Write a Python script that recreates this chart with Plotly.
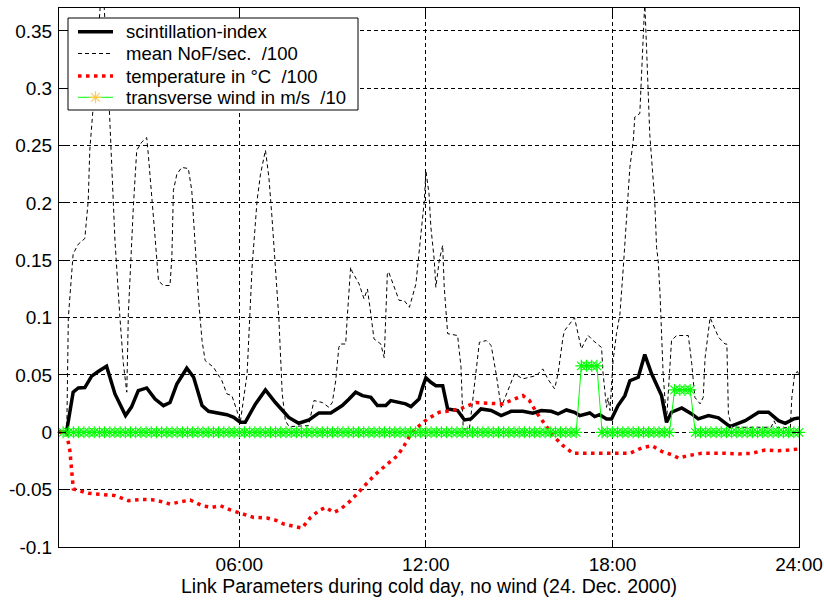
import plotly.graph_objects as go

# Link parameters over one day (hours since midnight)
scint_h = [0.2, 0.44, 0.655, 0.82, 1.03, 1.25, 1.46, 1.73, 2.0, 2.34, 2.53, 2.75, 3.02, 3.29, 3.56,
           3.77, 3.99, 4.31, 4.53, 4.8, 5.01, 5.33, 5.6, 5.82, 6.03, 6.19, 6.52, 6.84, 7.16, 7.59,
           7.91, 8.24, 8.56, 8.94, 9.31, 9.53, 9.74, 9.96, 10.23, 10.44, 10.71, 10.87, 11.14, 11.35,
           11.52, 11.78, 11.89, 12.0, 12.16, 12.32, 12.54, 12.7, 13.02, 13.24, 13.45, 13.77, 14.1,
           14.42, 14.74, 15.12, 15.44, 15.71, 16.03, 16.25, 16.52, 16.78, 16.95, 17.27, 17.43, 17.59,
           17.81, 17.97, 18.18, 18.4, 18.56, 18.83, 19.04, 19.26, 19.58, 19.74, 19.9, 20.23, 20.55,
           20.76, 21.09, 21.41, 21.78, 22.27, 22.7, 23.02, 23.34, 23.56, 23.83, 24.0]
scint_v = [0.0, 0.0, 0.035, 0.0387, 0.039, 0.049, 0.053, 0.0576, 0.0335, 0.0146, 0.022, 0.0364, 0.0387,
           0.029, 0.0233, 0.026, 0.042, 0.0559, 0.048, 0.0233, 0.0183, 0.0166, 0.0154, 0.0131, 0.0087,
           0.0087, 0.0248, 0.037, 0.026, 0.013, 0.0079, 0.0108, 0.0169, 0.0169, 0.0233, 0.029, 0.035,
           0.032, 0.0305, 0.0233, 0.0233, 0.0277, 0.026, 0.0248, 0.0224, 0.029, 0.039, 0.0475, 0.0436,
           0.0407, 0.0407, 0.0204, 0.019, 0.0108, 0.0117, 0.0204, 0.019, 0.0146, 0.0183, 0.0183,
           0.0166, 0.019, 0.0183, 0.016, 0.0195, 0.0175, 0.0146, 0.0169, 0.0137, 0.0154, 0.0117,
           0.0117, 0.0233, 0.032, 0.045, 0.048, 0.0678, 0.051, 0.032, 0.0087, 0.0175, 0.0213, 0.016,
           0.0117, 0.0146, 0.0126, 0.005, 0.0102, 0.0175, 0.0175, 0.0102, 0.0079, 0.0117, 0.0126]

nof_h = [0.2, 0.45, 0.5, 0.655, 0.82, 1.03, 1.14, 1.19, 1.3, 1.6, 1.82, 1.92, 2.0, 2.16, 2.27, 2.38,
         2.43, 2.59, 2.7, 2.86, 3.02, 3.07, 3.18, 3.29, 3.4, 3.56, 3.77, 3.83, 3.88, 3.99, 4.15, 4.36,
         4.47, 4.53, 4.69, 4.8, 4.9, 5.17, 5.44, 5.6, 5.76, 5.92, 6.03, 6.25, 6.41, 6.57, 6.68, 6.84,
         6.95, 7.05, 7.16, 7.27, 7.38, 7.48, 7.6, 8.23, 8.4, 8.67, 8.88, 8.99, 9.1, 9.2, 9.25, 9.42,
         9.47, 9.58, 9.63, 9.85, 10.01, 10.12, 10.23, 10.33, 10.55, 10.66, 10.76, 10.8, 11.14, 11.3,
         11.47, 11.68, 11.84, 11.95, 12.0, 12.1, 12.16, 12.27, 12.32, 12.43, 12.54, 12.59, 12.7,
         13.02, 13.13, 13.2, 13.4, 13.61, 13.72, 13.94, 14.1, 14.26, 14.42, 14.47, 14.63, 14.85,
         15.12, 15.33, 15.55, 15.76, 15.92, 16.14, 16.25, 16.41, 16.46, 16.78, 17.0, 17.22, 17.38,
         17.65, 17.7, 17.81, 17.86, 17.92, 18.02, 18.13, 18.24, 18.35, 18.45, 18.56, 18.67, 18.72,
         18.88, 18.94, 18.99, 19.04, 19.1, 19.15, 19.2, 19.31, 19.36, 19.42, 19.47, 19.53, 19.63,
         19.74, 19.9, 20.06, 20.44, 20.55, 20.65, 20.82, 20.92, 20.98, 21.09, 21.14, 21.41, 21.62,
         21.68, 21.73, 21.84, 23.1, 23.2, 23.3, 23.72, 23.77, 23.86, 23.95, 24.0]
nof_v = [0.0, 0.0, 0.1, 0.1557, 0.164, 0.169, 0.202, 0.246, 0.284, 0.40, 0.281, 0.211, 0.167, 0.1,
         0.06, 0.035, 0.103, 0.196, 0.246, 0.253, 0.257, 0.243, 0.202, 0.17, 0.132, 0.128, 0.128,
         0.153, 0.211, 0.225, 0.231, 0.23, 0.211, 0.182, 0.115, 0.08, 0.0626, 0.0567, 0.045, 0.0335,
         0.032, 0.019, 0.0087, 0.051, 0.144, 0.202, 0.225, 0.246, 0.2225, 0.1876, 0.144, 0.1, 0.0335,
         0.0102, 0.005, 0.0058, 0.0277, 0.026, 0.0218, 0.026, 0.045, 0.074, 0.077, 0.077, 0.1, 0.144,
         0.14, 0.1295, 0.1164, 0.125, 0.103, 0.0815, 0.077, 0.065, 0.138, 0.14, 0.115, 0.115, 0.109,
         0.1295, 0.173, 0.202, 0.228, 0.208, 0.179, 0.15, 0.1265, 0.15, 0.163, 0.1265, 0.086, 0.0844,
         0.0567, 0.003, 0.003, 0.054, 0.0785, 0.08, 0.0757, 0.051, 0.0218, 0.025, 0.0364, 0.051,
         0.0466, 0.048, 0.0495, 0.0553, 0.0466, 0.0379, 0.051, 0.0829, 0.0887, 0.1, 0.0728, 0.0844,
         0.08, 0.074, 0.051, 0.0218, 0.03, 0.019, 0.0626, 0.086, 0.103, 0.144, 0.1876, 0.231, 0.2545,
         0.275, 0.278, 0.3127, 0.35, 0.375, 0.333, 0.301, 0.26, 0.22, 0.202, 0.161, 0.15, 0.121,
         0.051, 0.01, 0.08, 0.0844, 0.0844, 0.06, 0.0305, 0.0248, 0.0305, 0.065, 0.0887, 0.1, 0.083,
         0.077, 0.077, 0.016, 0.0044, 0.0044, 0.01, 0.004, 0.004, 0.0305, 0.051, 0.053, 0.05]

temp_h = [0.2, 0.44, 0.55, 0.6, 0.66, 1.14, 1.57, 2.0, 2.43, 2.86, 3.29, 3.77, 4.04, 4.42, 4.8, 5.12,
          5.39, 5.71, 6.03, 6.46, 6.89, 7.16, 7.43, 7.75, 8.02, 8.29, 8.56, 8.77, 9.04, 9.26, 9.58,
          9.9, 10.33, 10.76, 11.09, 11.3, 11.52, 11.73, 12.05, 12.43, 12.86, 13.18, 13.61, 14.04,
          14.47, 14.85, 15.12, 15.33, 15.55, 15.82, 16.09, 16.41, 16.73, 17.16, 17.59, 18.07, 18.56,
          18.94, 19.26, 19.58, 19.9, 20.12, 20.44, 20.87, 21.19, 21.62, 22.05, 22.48, 22.91, 23.34,
          23.67, 24.0]
temp_v = [0.0, 0.0, -0.016, -0.0334, -0.0494, -0.0532, -0.0544, -0.0552, -0.0596, -0.0585, -0.059,
          -0.0625, -0.061, -0.059, -0.064, -0.0654, -0.064, -0.0677, -0.0705, -0.0742, -0.0747,
          -0.0765, -0.08, -0.0823, -0.0835, -0.0742, -0.0683, -0.0654, -0.0698, -0.0669, -0.0596,
          -0.0503, -0.0378, -0.0276, -0.0203, -0.0116, -0.0014, 0.0044, 0.0117, 0.0175, 0.019,
          0.0213, 0.026, 0.0253, 0.0248, 0.029, 0.032, 0.0277, 0.0175, 0.0073, -0.0029, -0.0116,
          -0.0183, -0.0183, -0.0183, -0.0189, -0.0183, -0.0136, -0.0116, -0.0166, -0.0195, -0.0224,
          -0.0203, -0.0183, -0.018, -0.0183, -0.0189, -0.0183, -0.0154, -0.016, -0.0154, -0.0145]

# transverse wind, one sample every 10 minutes (00:10 ... 24:00), 12 samples per row
wind_minutes = list(range(10, 1441, 10))
wind_v = [
    0, 0, 0, 0, 0, 0, 0, 0, 0, 0, 0, 0,
    0, 0, 0, 0, 0, 0, 0, 0, 0, 0, 0, 0,
    0, 0, 0, 0, 0, 0, 0, 0, 0, 0, 0, 0,
    0, 0, 0, 0, 0, 0, 0, 0, 0, 0, 0, 0,
    0, 0, 0, 0, 0, 0, 0, 0, 0, 0, 0, 0,
    0, 0, 0, 0, 0, 0, 0, 0, 0, 0, 0, 0,
    0, 0, 0, 0, 0, 0, 0, 0, 0, 0, 0, 0,
    0, 0, 0, 0, 0, 0, 0, 0, 0, 0, 0, 0,
    0, 0, 0, 0, 0, 0.058, 0.058, 0.058, 0.058, 0, 0, 0,
    0, 0, 0, 0, 0, 0, 0, 0, 0, 0, 0, 0.037,
    0.037, 0.037, 0.037, 0, 0, 0, 0, 0, 0, 0, 0, 0,
    0, 0, 0, 0, 0, 0, 0, 0, 0, 0, 0, 0,
]
wind_h = [m / 60 for m in wind_minutes]

x_ticks = [6, 12, 18, 24]
x_labels = ["06:00", "12:00", "18:00", "24:00"]
y_ticks = [-0.1, -0.05, 0, 0.05, 0.1, 0.15, 0.2, 0.25, 0.3, 0.35]
y_labels = ["-0.1", "-0.05", "0", "0.05", "0.1", "0.15", "0.2", "0.25", "0.3", "0.35"]

NB = "\u00a0"
legend_names = ["scintillation-index", "mean NoF/sec. " + NB + "/100",
                "temperature in °C " + NB + "/100", "transverse wind in m/s " + NB + "/10"]

FONT = "Liberation Sans, Arial, sans-serif"

# figure geometry in pixels
W, H = 824, 600
PL, PR, PT, PB = 59, 799, 8, 547

# line styles shared by data traces and their legend samples
styles = [
    dict(color="black", width=3.5),
    dict(color="black", width=1, dash="4px,3px"),
    dict(color="#ff0000", width=3.5, dash="3.5px,4.5px"),
    dict(color="#00ff00", width=1),
]
wind_marker = dict(symbol="asterisk-open", size=10, line=dict(color="#00ff00", width=1.2))

fig = go.Figure()
fig.add_trace(go.Scatter(x=scint_h, y=scint_v, mode="lines", name=legend_names[0],
                         line=styles[0], showlegend=False))
fig.add_trace(go.Scatter(x=nof_h, y=nof_v, mode="lines", name=legend_names[1],
                         line=styles[1], showlegend=False))
fig.add_trace(go.Scatter(x=temp_h, y=temp_v, mode="lines", name=legend_names[2],
                         line=styles[2], showlegend=False))
fig.add_trace(go.Scatter(x=wind_h, y=wind_v, mode="lines+markers", name=legend_names[3],
                         line=styles[3], marker=wind_marker, cliponaxis=False,
                         showlegend=False))

# legend panel drawn on a pixel-coordinate overlay (x right, y down)
box_l, box_r, box_t, box_b = 68, 358, 18, 110
rows_y = [31.7, 53.5, 76, 97.3]
sample_x0, sample_x1, text_x = 78, 113, 124

fig.add_trace(go.Scatter(x=[box_l, box_r, box_r, box_l, box_l],
                         y=[box_t, box_t, box_b, box_b, box_t],
                         mode="lines", fill="toself", fillcolor="white",
                         line=dict(color="black", width=1),
                         xaxis="x2", yaxis="y2", hoverinfo="skip", showlegend=False))
for name, style, ry in zip(legend_names, styles, rows_y):
    fig.add_trace(go.Scatter(x=[sample_x0, sample_x1], y=[ry, ry], mode="lines",
                             line=style, xaxis="x2", yaxis="y2",
                             hoverinfo="skip", showlegend=False))
    fig.add_annotation(x=text_x, y=ry, xref="x2", yref="y2", text=name,
                       xanchor="left", yanchor="middle", showarrow=False,
                       font=dict(family=FONT, size=18.5, color="black"))
fig.add_trace(go.Scatter(x=[(sample_x0 + sample_x1) / 2], y=[rows_y[3]], mode="markers",
                         marker=dict(symbol="asterisk-open", size=10,
                                     line=dict(color="#00ff00", width=1.2)),
                         xaxis="x2", yaxis="y2", hoverinfo="skip", showlegend=False))

axis_common = dict(
    showline=True, linecolor="black", linewidth=1, mirror="ticks",
    ticks="inside", ticklen=7, tickcolor="black", tickwidth=1,
    showgrid=True, gridcolor="black", gridwidth=1, griddash="4px,3px",
    zeroline=False, automargin=False, tickfont=dict(family=FONT, size=19, color="black"),
)

fig.update_layout(
    width=W, height=H,
    margin=dict(l=PL, r=W - PR, t=PT, b=H - PB, autoexpand=False),
    paper_bgcolor="white", plot_bgcolor="white",
    font=dict(family=FONT, size=19, color="black"),
    showlegend=False,
    xaxis=dict(range=[0.2, 24], tickmode="array", tickvals=x_ticks, ticktext=x_labels,
               title=dict(text="Link Parameters during cold day, no wind (24. Dec. 2000)",
                          font=dict(family=FONT, size=19.5, color="black"), standoff=0),
               **axis_common),
    yaxis=dict(range=[-0.1, 0.37], tickmode="array", tickvals=y_ticks, ticktext=y_labels,
               ticklabelstandoff=2, **axis_common),
    xaxis2=dict(overlaying="x", range=[PL, PR], visible=False, fixedrange=True),
    yaxis2=dict(overlaying="y", range=[PB, PT], visible=False, fixedrange=True),
)

fig.write_html("out.html", config={"displayModeBar": False})
